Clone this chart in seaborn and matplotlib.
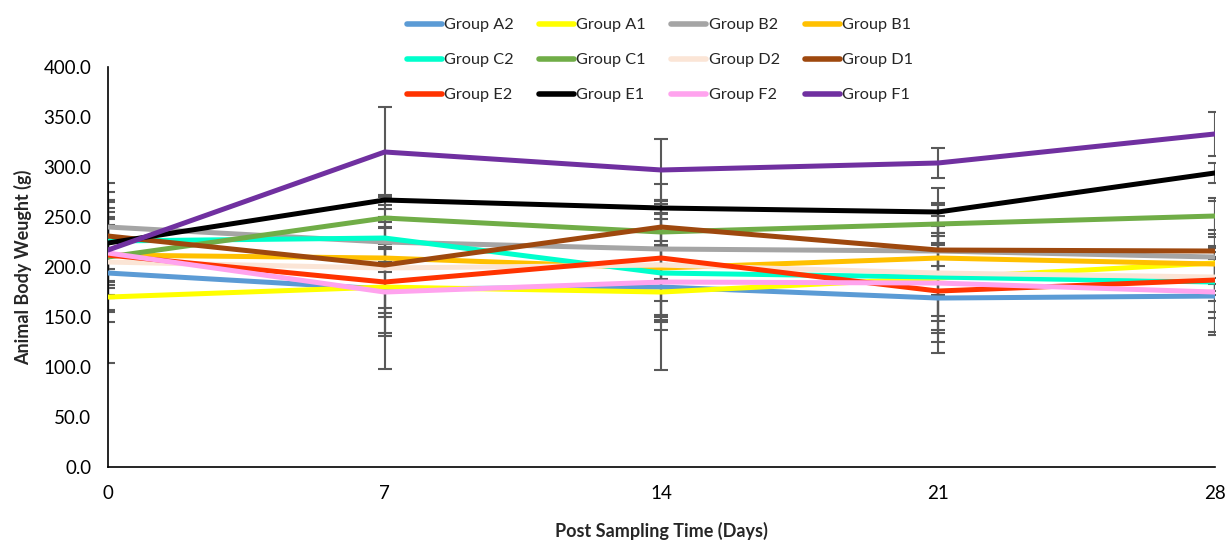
import numpy as np
import pandas as pd
import matplotlib
matplotlib.use("Agg")
import matplotlib.pyplot as plt
import seaborn as sns
from matplotlib.lines import Line2D

days = [0, 7, 14, 21, 28]
groups = ["Group A2", "Group A1", "Group B2", "Group B1",
          "Group C2", "Group C1", "Group D2", "Group D1",
          "Group E2", "Group E1", "Group F2", "Group F1"]
colors = ["#5B9BD5", "#FFFF00", "#A5A5A5", "#FFC000",
          "#00FFCC", "#70AD47", "#FBE5D6", "#9E480E",
          "#FF3300", "#000000", "#FFA3EE", "#7030A0"]

mean_A2 = [194, 178, 180, 169, 171]
mean_A1 = [170, 180, 175, 189, 204]
mean_B2 = [240, 225, 218, 216, 210]
mean_B1 = [212, 209, 199, 209, 203]
mean_C2 = [226, 229, 194, 190, 185]
mean_C1 = [210, 249, 235, 243, 251]
mean_D2 = [205, 199, 202, 194, 190]
mean_D1 = [231, 202, 240, 217, 216]
mean_E2 = [212, 185, 209, 176, 187]
mean_E1 = [224, 267, 259, 255, 294]
mean_F2 = [214, 175, 185, 184, 175]
mean_F1 = [217, 315, 297, 304, 333]

err_A2 = [90, 80, 83, 55, 39]
err_A1 = [15, 46, 28, 55, 15]
err_B2 = [35, 20, 30, 25, 27]
err_B1 = [55, 14, 54, 25, 27]
err_C2 = [40, 11, 28, 44, 36]
err_C1 = [38, 22, 32, 21, 18]
err_D2 = [60, 40, 65, 57, 18]
err_D1 = [36, 48, 14, 45, 50]
err_E2 = [30, 35, 57, 25, 32]
err_E1 = [26, 5, 24, 24, 10]
err_F2 = [45, 44, 35, 59, 40]
err_F1 = [38, 45, 31, 15, 22]

means = [mean_A2, mean_A1, mean_B2, mean_B1, mean_C2, mean_C1,
         mean_D2, mean_D1, mean_E2, mean_E1, mean_F2, mean_F1]
errs = [err_A2, err_A1, err_B2, err_B1, err_C2, err_C1,
        err_D2, err_D1, err_E2, err_E1, err_F2, err_F1]

rows = []
for g, m, e in zip(groups, means, errs):
    for d, v, s in zip(days, m, e):
        rows.append({"Day": d, "Weight": v, "Err": s, "Group": g})
df = pd.DataFrame(rows)

sns.set_style("white")
plt.rcParams["font.family"] = ["Lato", "DejaVu Sans"]

fig = plt.figure(figsize=(12.27, 5.4), dpi=100)
ax = fig.add_axes([0.088, 0.135, 0.902, 0.741])

# error bars below lines
for g in groups:
    sub = df[df["Group"] == g]
    ax.errorbar(sub["Day"], sub["Weight"], yerr=sub["Err"], fmt="none",
                ecolor="#595959", elinewidth=1.5, capsize=5, capthick=1.5,
                zorder=1)

palette = dict(zip(groups, colors))
sns.lineplot(data=df, x="Day", y="Weight", hue="Group", hue_order=groups,
             palette=palette, linewidth=3.6, ax=ax, legend=False, zorder=3)

ax.set_xlim(0, 28)
ax.set_ylim(0, 400)
ax.set_xticks(days)
ax.set_yticks(np.arange(0, 401, 50))
ax.set_yticklabels([f"{v:.1f}" for v in np.arange(0, 401, 50)])
ax.tick_params(axis="both", direction="inout", length=10, width=1.2,
               labelsize=13.5, colors="black")
ax.tick_params(axis="y", pad=7)
ax.tick_params(axis="x", pad=8)
for s in ["top", "right"]:
    ax.spines[s].set_visible(False)
for s in ["left", "bottom"]:
    ax.spines[s].set_color("black")
    ax.spines[s].set_linewidth(1.2)

ax.set_xlabel("Post Sampling Time (Days)", fontsize=13, fontweight="bold", labelpad=14)
ax.set_ylabel("Animal Body Weught (g)", fontsize=13, fontweight="bold", labelpad=8)

# legend laid out row by row (4 columns, 3 rows)
ncol, nrow = 4, 3
order = [r * ncol + c for c in range(ncol) for r in range(nrow)]
handles = [Line2D([0], [0], color=colors[i], lw=4, solid_capstyle="round") for i in order]
labels = [groups[i] for i in order]
fig.legend(handles, labels, loc="upper left", bbox_to_anchor=(0.3195, 0.994),
           ncol=ncol, frameon=False, fontsize=11.7, handlelength=2.15,
           handletextpad=0.15, columnspacing=1.55, labelspacing=1.27)

fig.savefig("out.png", dpi=100)
